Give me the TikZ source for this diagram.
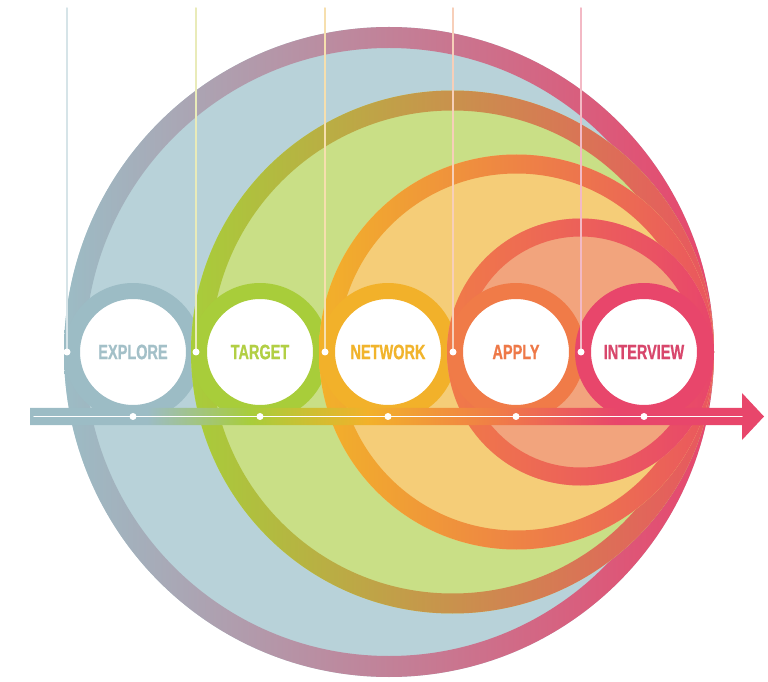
\documentclass[tikz,border=0pt]{standalone}
\usepackage{fontspec}
\newfontfamily\stepfont[FakeStretch=0.70,BoldFeatures={FakeBold=0.8}]{Liberation Sans}
\definecolor{bluering}{HTML}{9CBCC5}
\definecolor{bluefill}{HTML}{B8D2D9}
\definecolor{greenring}{HTML}{A8CD3A}
\definecolor{greenfill}{HTML}{C9DF86}
\definecolor{netring}{HTML}{F2B12A}
\definecolor{netfill}{HTML}{F5CD78}
\definecolor{applyring}{HTML}{F07B48}
\definecolor{applyfill}{HTML}{F2A47D}
\definecolor{pinkring}{HTML}{E8466B}
\definecolor{redring}{HTML}{EA565F}
\definecolor{bluetext}{HTML}{A3C0C8}
\definecolor{greentext}{HTML}{B2CF44}
\definecolor{nettext}{HTML}{F1B42C}
\definecolor{applytext}{HTML}{EE7948}
\definecolor{pinktext}{HTML}{D8476C}
\definecolor{bluepin}{HTML}{D6E4E8}
\definecolor{greenpin}{HTML}{E9EBB9}
\definecolor{netpin}{HTML}{F6DFAE}
\definecolor{applypin}{HTML}{F7CFB9}
\definecolor{pinkpin}{HTML}{F3B9C5}
\pgfdeclarehorizontalshading{barshade}{100bp}{color(0bp)=(bluering); color(33bp)=(bluering); color(40bp)=(greenring); color(48bp)=(netring); color(57bp)=(applyring); color(65bp)=(pinkring); color(100bp)=(pinkring)}

\tikzset{
  stepring/.style={circle, inner sep=0pt, minimum size=2.44cm, line width=0.32cm, fill=white,
    font=\stepfont\bfseries\fontsize{11.8}{12}\selectfont},
  pinline/.style={line width=0.03cm}
}

\begin{document}
\begin{tikzpicture}[x=0.02cm,y=-0.02cm,line cap=round,line join=round]
\useasboundingbox (0,0) rectangle (768,682);

\foreach \cx/\fc/\rc/\ec/\w/\tc/\nm/\lbl in {133/bluefill/bluering/pinkring/21/bluetext/explore/EXPLORE,
  260/greenfill/greenring/redring/20/greentext/target/TARGET,
  388/netfill/netring/redring/19/nettext/network/NETWORK,
  516/applyfill/applyring/pinkring/18/applytext/apply/APPLY}{
  \pgfmathsetmacro{\R}{(783-\cx)/2}
  \pgfmathsetmacro{\Ri}{\R-\w}
  \pgfmathsetmacro{\mx}{\cx-69+\R}
  \fill[\fc] (\mx,352) circle (\R);
  \shade[left color=\rc, right color=\ec, even odd rule] (\mx,352) circle (\R) (\mx,352) circle (\Ri);
  \node[stepring, draw=\rc, text=\tc] (\nm) at (\cx,352) {\lbl};
}
\node[stepring, draw=pinkring, text=pinktext] (interview) at (644,352) {INTERVIEW};

\shade[shading=barshade] (30,408) -- (742,408) -- (742,393) -- (764,416.5) -- (742,440) -- (742,425) -- (30,425) -- cycle;
\draw[white, line width=0.03cm] (34,416.5) -- (742,416.5);
\foreach \x in {133,260,388,516,644}
\fill[white] (\x,416.5) circle (3.5);

\foreach \x/\c in {67/bluepin,196/greenpin,325/netpin,453/applypin,581/pinkpin}{
\path (\x,8) coordinate (top-\x) (\x,352) coordinate (dot-\x);
\draw[\c, pinline] (top-\x) -- (dot-\x);
\fill[white] (dot-\x) circle (3.5);
}

\end{tikzpicture}
\end{document}
